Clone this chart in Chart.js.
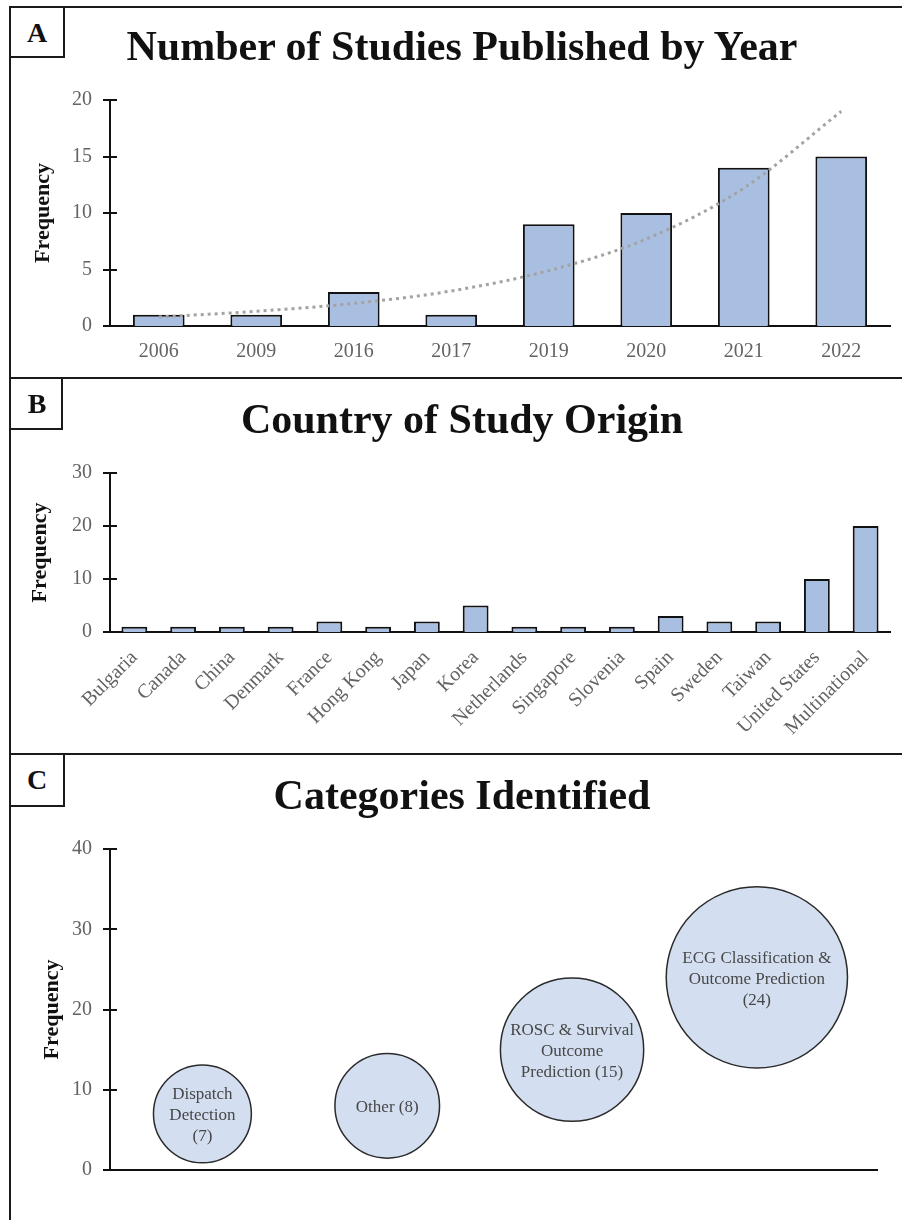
<!DOCTYPE html>
<html>
<head>
<meta charset="utf-8">
<script src="https://cdn.jsdelivr.net/npm/chart.js@4.4.1/dist/chart.umd.min.js"></script>
<style>
  html,body{margin:0;padding:0;background:#fff;}
  body{width:902px;height:1220px;position:relative;overflow:hidden;font-family:"Liberation Serif","Times New Roman",serif;}
  .hl{position:absolute;left:9px;right:0;height:2px;background:#1a1a1a;}
  .vl{position:absolute;width:2px;background:#1a1a1a;}
  .box{position:absolute;left:9px;border:2px solid #1a1a1a;box-sizing:border-box;background:#fff;}
  .tag{position:absolute;left:10px;width:54px;text-align:center;font-weight:bold;font-size:28px;line-height:28px;color:#111;}
  .title{position:absolute;left:0;width:924px;text-align:center;font-weight:bold;font-size:42px;line-height:42px;color:#111;white-space:nowrap;}
  canvas{position:absolute;left:0;}
</style>
</head>
<body>
<canvas id="chartA" width="902" height="308" style="top:70px"></canvas>
<canvas id="chartB" width="902" height="314" style="top:440px"></canvas>
<canvas id="chartC" width="902" height="405" style="top:815px"></canvas>

<div class="hl" style="top:6px"></div>
<div class="hl" style="top:377px"></div>
<div class="hl" style="top:753px"></div>
<div class="vl" style="left:9px;top:6px;bottom:0"></div>

<div class="box" style="top:6px;width:56px;height:52px"></div>
<div class="box" style="top:377px;width:54px;height:53px"></div>
<div class="box" style="top:753px;width:56px;height:54px"></div>

<div class="tag" style="top:19px">A</div>
<div class="tag" style="top:390px">B</div>
<div class="tag" style="top:766px">C</div>

<div class="title" style="top:25px">Number of Studies Published by Year</div>
<div class="title" style="top:398px">Country of Study Origin</div>
<div class="title" style="top:774px">Categories Identified</div>

<script>
// ---------- DATA ----------
const years = ["2006", "2009", "2016", "2017", "2019", "2020", "2021", "2022"];
const studiesPerYear = [1, 1, 3, 1, 9, 10, 14, 15];
const trendPerYear = [0.8, 1.3, 2.0, 3.1, 4.9, 7.7, 12.2, 19.0];

const countries = ["Bulgaria", "Canada", "China", "Denmark", "France", "Hong Kong", "Japan", "Korea",
  "Netherlands", "Singapore", "Slovenia", "Spain", "Sweden", "Taiwan", "United States", "Multinational"];
const studiesPerCountry = [1, 1, 1, 1, 2, 1, 2, 5, 1, 1, 1, 3, 2, 2, 10, 20];

const categoryPositions = [1, 2, 3, 4];
const categoryCounts = [7, 8, 15, 24];
const categoryLabelLines = [
  ["Dispatch", "Detection", "(7)"],
  ["Other (8)"],
  ["ROSC & Survival", "Outcome", "Prediction (15)"],
  ["ECG Classification &", "Outcome Prediction", "(24)"]
];

const yTicksA = [0, 5, 10, 15, 20];
const yTicksB = [0, 10, 20, 30];
const yTicksC = [0, 10, 20, 30, 40];

// ---------- STYLE ----------
const SERIF = "'Liberation Serif', 'Times New Roman', serif";
const TICK_COLOR = "#636363";
const BAR_FILL = "#a9bfe2";
const BUBBLE_FILL = "#d3dff0";
const AXIS_COLOR = "#111";

Chart.defaults.animation = false;
Chart.defaults.font.family = SERIF;

const crossTicks = {
  id: 'crossTicks',
  afterDatasetsDraw(chart) {
    const y = chart.scales.y;
    const ctx = chart.ctx;
    const x0 = chart.chartArea.left;
    ctx.save();
    ctx.strokeStyle = AXIS_COLOR;
    ctx.lineWidth = 2;
    y.ticks.forEach(t => {
      const py = Math.round(y.getPixelForValue(t.value));
      ctx.beginPath();
      ctx.moveTo(x0 - 7, py);
      ctx.lineTo(x0 + 7, py);
      ctx.stroke();
    });
    ctx.restore();
  }
};

function yAxis(max, step, width, titlePad, ticksList) {
  return {
    min: 0, max: max,
    afterFit: s => { s.width = width; },
    afterBuildTicks: s => { s.ticks = ticksList.map(v => ({value: v})); },
    ticks: {stepSize: step, color: TICK_COLOR, font: {size: 20, family: SERIF}, padding: 18},
    grid: {display: false, drawTicks: false},
    border: {display: true, color: AXIS_COLOR, width: 2},
    title: {display: true, text: "Frequency", color: "#111",
      font: {size: 22, weight: 'bold', family: SERIF}, padding: {top: titlePad, bottom: 0}}
  };
}

const basePlugins = {legend: {display: false}, tooltip: {enabled: false}};

// ---------- CHART A ----------
new Chart(document.getElementById('chartA'), {
  type: 'bar',
  data: {
    labels: years,
    datasets: [
      {type: 'line', data: trendPerYear, borderColor: '#a3a3a3', borderWidth: 3,
        borderDash: [3, 4], pointRadius: 0, tension: 0.4, cubicInterpolationMode: 'monotone',
        fill: false, order: 0},
      {type: 'bar', data: studiesPerYear, backgroundColor: BAR_FILL, borderColor: AXIS_COLOR,
        borderWidth: 2, categoryPercentage: 1, barPercentage: 0.53, order: 1}
    ]
  },
  options: {
    responsive: false,
    layout: {padding: {top: 30, right: 12, left: 0, bottom: 0}},
    plugins: basePlugins,
    scales: {
      x: {
        afterFit: s => { s.height = 52; },
        ticks: {color: TICK_COLOR, font: {size: 20, family: SERIF}, padding: 14, maxRotation: 0},
        grid: {display: false, drawTicks: false},
        border: {display: true, color: AXIS_COLOR, width: 2}
      },
      y: yAxis(20, 5, 110, 30, yTicksA)
    }
  },
  plugins: [crossTicks]
});

// ---------- CHART B ----------
new Chart(document.getElementById('chartB'), {
  type: 'bar',
  data: {
    labels: countries,
    datasets: [
      {data: studiesPerCountry, backgroundColor: BAR_FILL, borderColor: AXIS_COLOR,
        borderWidth: 2, categoryPercentage: 1, barPercentage: 0.53}
    ]
  },
  options: {
    responsive: false,
    layout: {padding: {top: 33, right: 12, left: 0, bottom: 0}},
    plugins: basePlugins,
    scales: {
      x: {
        afterFit: s => { s.height = 122; },
        ticks: {color: TICK_COLOR, font: {size: 20, family: SERIF}, padding: 14,
          minRotation: 45, maxRotation: 45, autoSkip: false},
        grid: {display: false, drawTicks: false},
        border: {display: true, color: AXIS_COLOR, width: 2}
      },
      y: yAxis(30, 10, 110, 27, yTicksB)
    }
  },
  plugins: [crossTicks]
});

// ---------- CHART C ----------
const bubbleText = {
  id: 'bubbleText',
  afterDatasetsDraw(chart) {
    const meta = chart.getDatasetMeta(0);
    const ctx = chart.ctx;
    ctx.save();
    ctx.fillStyle = '#474747';
    ctx.font = "17px " + SERIF;
    ctx.textAlign = 'center';
    ctx.textBaseline = 'middle';
    const lh = 21;
    meta.data.forEach((el, i) => {
      const lines = categoryLabelLines[i];
      const y0 = el.y + 2 - (lines.length - 1) * lh / 2;
      lines.forEach((ln, j) => ctx.fillText(ln, el.x, y0 + j * lh));
    });
    ctx.restore();
  }
};

new Chart(document.getElementById('chartC'), {
  type: 'bubble',
  data: {
    datasets: [{
      data: categoryCounts.map((v, i) => ({x: categoryPositions[i], y: v})),
      backgroundColor: BUBBLE_FILL,
      borderColor: '#2a2a2a',
      borderWidth: 1.5,
      radius: c => 18.5 * Math.sqrt(c.raw.y),
      clip: false
    }]
  },
  options: {
    responsive: false,
    layout: {autoPadding: false, padding: {top: 34, right: 25, left: 0, bottom: 0}},
    plugins: basePlugins,
    scales: {
      x: {
        type: 'linear', min: 0.5, max: 4.65,
        afterFit: s => { s.height = 50; },
        ticks: {display: false},
        grid: {display: false, drawTicks: false},
        border: {display: true, color: AXIS_COLOR, width: 2}
      },
      y: yAxis(40, 10, 110, 39, yTicksC)
    }
  },
  plugins: [crossTicks, bubbleText]
});
</script>
</body>
</html>
